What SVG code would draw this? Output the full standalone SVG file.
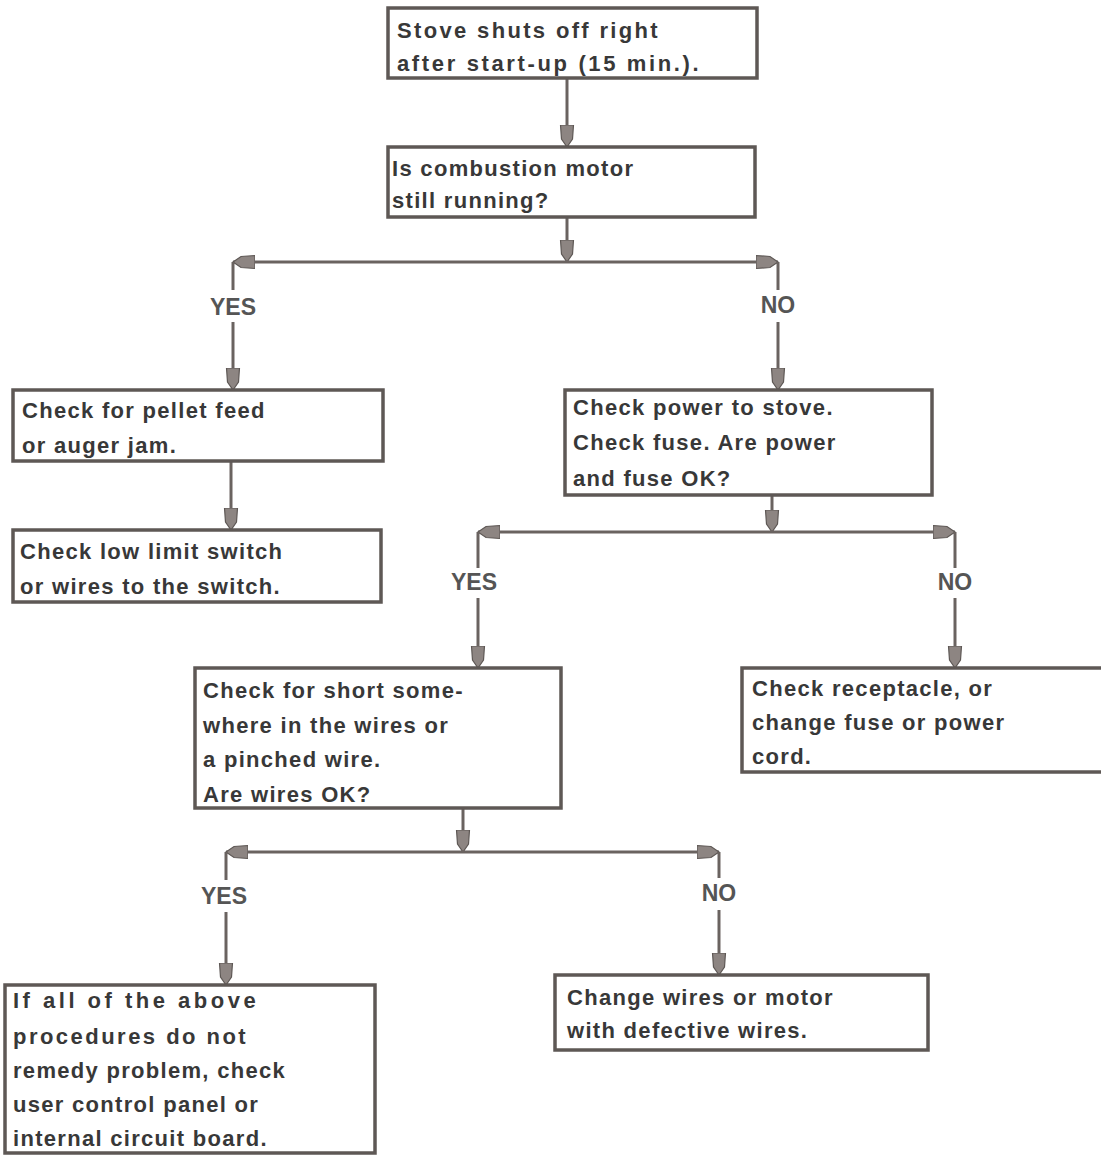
<svg xmlns="http://www.w3.org/2000/svg" width="1101" height="1155" viewBox="0 0 1101 1155">
<style>
.box{fill:#fff;stroke:#5e5855;stroke-width:3.5}
.t{font-family:"Liberation Sans",Arial,sans-serif;font-size:22px;fill:#383838;font-weight:600;letter-spacing:1.3px}
.lbl{font-family:"Liberation Sans",Arial,sans-serif;font-size:23px;fill:#555;font-weight:bold;text-anchor:middle}
.ln{fill:none;stroke:#6a6360;stroke-width:3}
</style>
<defs>
<marker id="ah" markerUnits="userSpaceOnUse" markerWidth="24" markerHeight="16" refX="22" refY="8" orient="auto-start-reverse" viewBox="0 0 24 16">
<path d="M0,1.5 L14,2.5 L22,8 L14,13.5 L0,14.5 Z" fill="#8d8582" stroke="#5e5855" stroke-width="1.2"/>
</marker>
</defs>
<rect width="1101" height="1155" fill="#fff"/>
<g id="connectors">
<path class="ln" d="M567,78 V147" marker-end="url(#ah)"/>
<path class="ln" d="M567,217 V262" marker-end="url(#ah)"/>
<path class="ln" d="M233,262 H778" marker-start="url(#ah)" marker-end="url(#ah)"/>
<path class="ln" d="M233,262 V290"/>
<path class="ln" d="M233,322 V390" marker-end="url(#ah)"/>
<path class="ln" d="M778,262 V290"/>
<path class="ln" d="M778,322 V390" marker-end="url(#ah)"/>
<path class="ln" d="M231,462 V530" marker-end="url(#ah)"/>
<path class="ln" d="M772,495 V532" marker-end="url(#ah)"/>
<path class="ln" d="M478,532 H955" marker-start="url(#ah)" marker-end="url(#ah)"/>
<path class="ln" d="M478,532 V568"/>
<path class="ln" d="M478,598 V668" marker-end="url(#ah)"/>
<path class="ln" d="M955,532 V568"/>
<path class="ln" d="M955,598 V668" marker-end="url(#ah)"/>
<path class="ln" d="M463,808 V852" marker-end="url(#ah)"/>
<path class="ln" d="M226,852 H719" marker-start="url(#ah)" marker-end="url(#ah)"/>
<path class="ln" d="M226,852 V880"/>
<path class="ln" d="M226,912 V985" marker-end="url(#ah)"/>
<path class="ln" d="M719,852 V878"/>
<path class="ln" d="M719,910 V975" marker-end="url(#ah)"/>
<text class="lbl" x="233" y="315">YES</text>
<text class="lbl" x="778" y="313">NO</text>
<text class="lbl" x="474" y="590">YES</text>
<text class="lbl" x="955" y="590">NO</text>
<text class="lbl" x="224" y="904">YES</text>
<text class="lbl" x="719" y="901">NO</text>
</g>
<g id="n1"><rect class="box" x="388" y="8" width="369" height="70"/>
<text class="t" x="397" y="38" textLength="262" lengthAdjust="spacing">Stove shuts off right</text>
<text class="t" x="397" y="71" textLength="303" lengthAdjust="spacing">after start-up (15 min.).</text></g>
<g id="n2"><rect class="box" x="388" y="147" width="367" height="70"/>
<text class="t" x="392" y="176">Is combustion motor</text>
<text class="t" x="392" y="208">still running?</text></g>
<g id="n3"><rect class="box" x="13" y="390" width="370" height="71"/>
<text class="t" x="22" y="418">Check for pellet feed</text>
<text class="t" x="22" y="453">or auger jam.</text></g>
<g id="n4"><rect class="box" x="13" y="530" width="368" height="72"/>
<text class="t" x="20" y="559">Check low limit switch</text>
<text class="t" x="20" y="594">or wires to the switch.</text></g>
<g id="n5"><rect class="box" x="565" y="390" width="367" height="105"/>
<text class="t" x="573" y="415">Check power to stove.</text>
<text class="t" x="573" y="450">Check fuse. Are power</text>
<text class="t" x="573" y="486">and fuse OK?</text></g>
<g id="n6"><rect class="box" x="195" y="668" width="366" height="140"/>
<text class="t" x="203" y="698">Check for short some-</text>
<text class="t" x="203" y="733">where in the wires or</text>
<text class="t" x="203" y="767">a pinched wire.</text>
<text class="t" x="203" y="802">Are wires OK?</text></g>
<g id="n7"><rect class="box" x="742" y="668" width="370" height="104"/>
<text class="t" x="752" y="696">Check receptacle, or</text>
<text class="t" x="752" y="730">change fuse or power</text>
<text class="t" x="752" y="764">cord.</text></g>
<g id="n8"><rect class="box" x="5" y="985" width="370" height="168"/>
<text class="t" x="13" y="1008" textLength="244" lengthAdjust="spacing">If all of the above</text>
<text class="t" x="13" y="1044" textLength="234" lengthAdjust="spacing">procedures do not</text>
<text class="t" x="13" y="1078">remedy problem, check</text>
<text class="t" x="13" y="1112">user control panel or</text>
<text class="t" x="13" y="1146">internal circuit board.</text></g>
<g id="n9"><rect class="box" x="555" y="975" width="373" height="75"/>
<text class="t" x="567" y="1005">Change wires or motor</text>
<text class="t" x="567" y="1038">with defective wires.</text></g>
</svg>
